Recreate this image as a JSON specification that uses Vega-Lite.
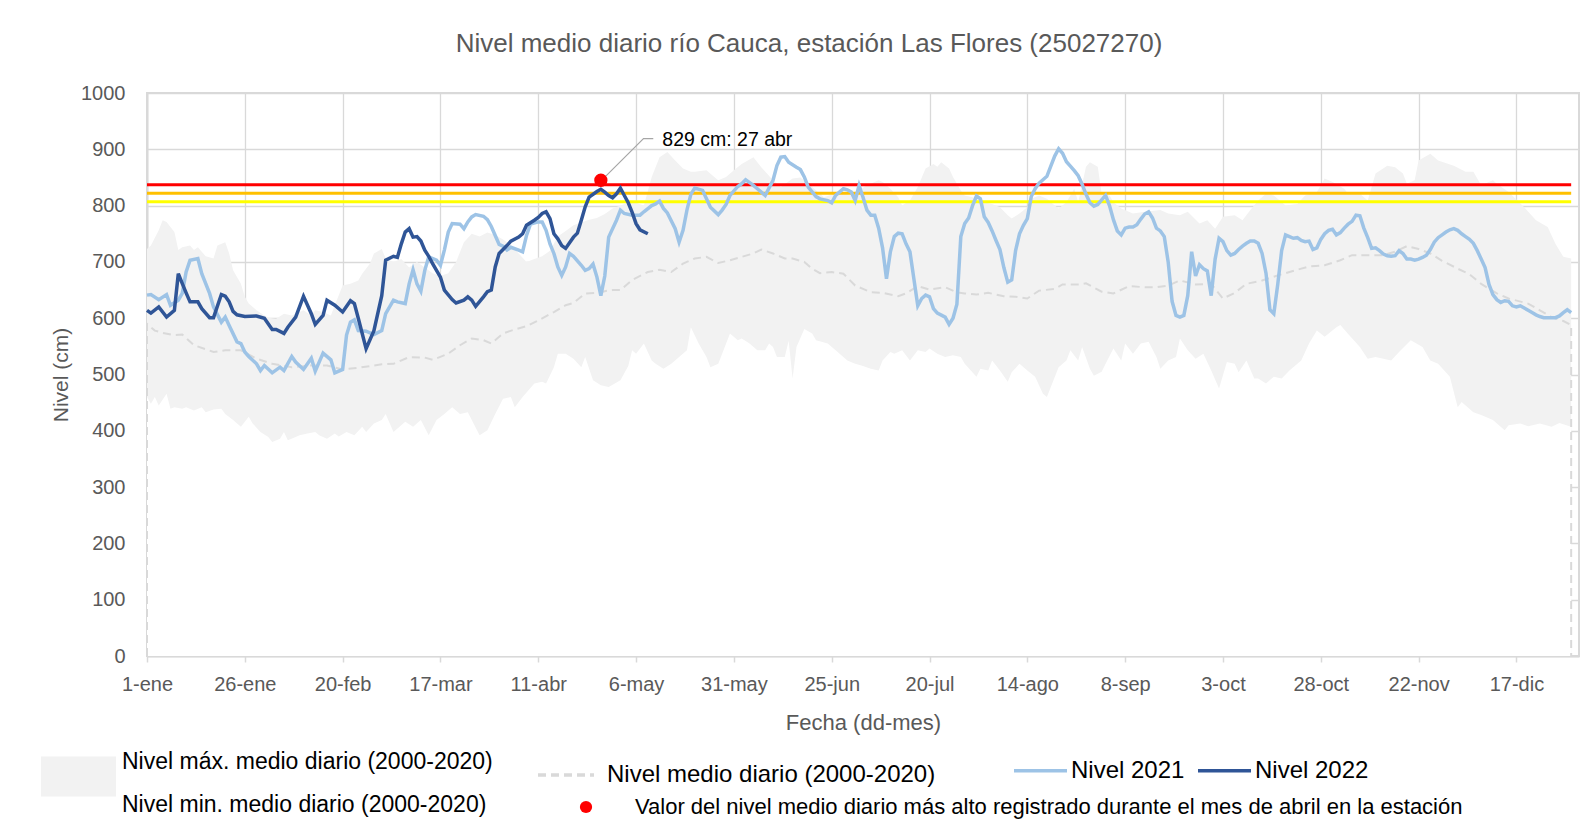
{
"$schema": "https://vega.github.io/schema/vega-lite/v6.json",
"width": 1432, "height": 563,
"autosize": {"type": "none"},
"padding": {"left": 147, "top": 93, "right": 14, "bottom": 178},
"background": "white",
"title": {"text": "Nivel medio diario río Cauca, estación Las Flores (25027270)", "font": "Liberation Sans", "fontSize": 26, "fontWeight": "normal", "color": "#595959", "anchor": "middle", "frame": "group", "dx": -54, "offset": 5.5, "baseline": "alphabetic"},
"config": {
  "font": "Liberation Sans",
  "view": {"stroke": "#D9D9D9", "strokeWidth": 2},
  "legend": {"labelColor": "black", "padding": 0, "labelFont": "Liberation Sans", "labelLimit": 2000}
},
"datasets": {
"max": [{"d":1,"v":723},{"d":2,"v":729},{"d":4,"v":756},{"d":5,"v":774},{"d":6,"v":771},{"d":8,"v":753},{"d":9,"v":721},{"d":10,"v":726},{"d":12,"v":729},{"d":13,"v":721},{"d":14,"v":726},{"d":16,"v":710},{"d":18,"v":706},{"d":19,"v":729},{"d":21,"v":735},{"d":22,"v":715},{"d":23,"v":685},{"d":25,"v":661},{"d":26,"v":638},{"d":27,"v":626},{"d":29,"v":614},{"d":31,"v":605},{"d":32,"v":601},{"d":34,"v":599},{"d":36,"v":608},{"d":38,"v":605},{"d":39,"v":608},{"d":41,"v":614},{"d":43,"v":605},{"d":44,"v":614},{"d":46,"v":611},{"d":48,"v":605},{"d":49,"v":623},{"d":51,"v":658},{"d":53,"v":661},{"d":55,"v":667},{"d":56,"v":679},{"d":58,"v":697},{"d":59,"v":715},{"d":61,"v":723},{"d":62,"v":706},{"d":64,"v":700},{"d":66,"v":705},{"d":68,"v":690},{"d":70,"v":700},{"d":72,"v":690},{"d":74,"v":680},{"d":76,"v":675},{"d":78,"v":680},{"d":80,"v":700},{"d":82,"v":735},{"d":84,"v":750},{"d":86,"v":745},{"d":88,"v":752},{"d":90,"v":748},{"d":92,"v":740},{"d":94,"v":730},{"d":96,"v":715},{"d":98,"v":700},{"d":100,"v":705},{"d":102,"v":710},{"d":104,"v":720},{"d":106,"v":745},{"d":108,"v":755},{"d":110,"v":765},{"d":112,"v":770},{"d":114,"v":775},{"d":116,"v":778},{"d":118,"v":785},{"d":120,"v":795},{"d":122,"v":800},{"d":124,"v":805},{"d":126,"v":805},{"d":128,"v":800},{"d":130,"v":851},{"d":132,"v":886},{"d":134,"v":895},{"d":136,"v":880},{"d":138,"v":866},{"d":140,"v":860},{"d":141,"v":860},{"d":144,"v":863},{"d":146,"v":851},{"d":147,"v":845},{"d":149,"v":851},{"d":151,"v":863},{"d":153,"v":874},{"d":156,"v":886},{"d":157,"v":877},{"d":158,"v":868},{"d":161,"v":845},{"d":163,"v":833},{"d":166,"v":848},{"d":168,"v":850},{"d":171,"v":833},{"d":174,"v":815},{"d":178,"v":824},{"d":181,"v":818},{"d":185,"v":836},{"d":188,"v":845},{"d":189,"v":842},{"d":191,"v":830},{"d":193,"v":815},{"d":194,"v":800},{"d":196,"v":809},{"d":198,"v":833},{"d":200,"v":866},{"d":202,"v":874},{"d":203,"v":869},{"d":204,"v":877},{"d":206,"v":866},{"d":207,"v":851},{"d":209,"v":827},{"d":210,"v":818},{"d":212,"v":815},{"d":215,"v":806},{"d":217,"v":803},{"d":219,"v":797},{"d":221,"v":783},{"d":222,"v":777},{"d":224,"v":786},{"d":226,"v":797},{"d":227,"v":812},{"d":229,"v":818},{"d":231,"v":812},{"d":233,"v":800},{"d":234,"v":795},{"d":236,"v":806},{"d":238,"v":830},{"d":239,"v":806},{"d":241,"v":869},{"d":242,"v":877},{"d":244,"v":869},{"d":245,"v":821},{"d":247,"v":818},{"d":248,"v":806},{"d":250,"v":795},{"d":253,"v":786},{"d":256,"v":789},{"d":260,"v":792},{"d":262,"v":786},{"d":265,"v":783},{"d":267,"v":789},{"d":270,"v":768},{"d":272,"v":774},{"d":274,"v":759},{"d":276,"v":780},{"d":279,"v":783},{"d":281,"v":774},{"d":283,"v":792},{"d":285,"v":809},{"d":287,"v":821},{"d":289,"v":818},{"d":292,"v":800},{"d":295,"v":803},{"d":297,"v":818},{"d":300,"v":824},{"d":302,"v":848},{"d":304,"v":842},{"d":307,"v":830},{"d":308,"v":821},{"d":311,"v":821},{"d":313,"v":809},{"d":315,"v":857},{"d":318,"v":871},{"d":320,"v":868},{"d":322,"v":857},{"d":323,"v":839},{"d":325,"v":845},{"d":326,"v":880},{"d":329,"v":892},{"d":331,"v":880},{"d":335,"v":871},{"d":338,"v":860},{"d":340,"v":860},{"d":342,"v":836},{"d":345,"v":845},{"d":346,"v":839},{"d":349,"v":824},{"d":353,"v":797},{"d":356,"v":774},{"d":359,"v":762},{"d":361,"v":732},{"d":363,"v":709},{"d":365,"v":706}],
"min": [{"d":1,"v":460},{"d":2,"v":448},{"d":3,"v":460},{"d":4,"v":445},{"d":6,"v":466},{"d":7,"v":439},{"d":8,"v":442},{"d":10,"v":439},{"d":11,"v":442},{"d":13,"v":436},{"d":15,"v":442},{"d":16,"v":433},{"d":18,"v":438},{"d":20,"v":439},{"d":21,"v":430},{"d":23,"v":419},{"d":25,"v":407},{"d":27,"v":425},{"d":28,"v":413},{"d":30,"v":398},{"d":32,"v":389},{"d":33,"v":380},{"d":35,"v":386},{"d":36,"v":398},{"d":37,"v":383},{"d":39,"v":389},{"d":40,"v":392},{"d":42,"v":395},{"d":44,"v":398},{"d":45,"v":392},{"d":47,"v":386},{"d":49,"v":395},{"d":50,"v":390},{"d":52,"v":398},{"d":54,"v":392},{"d":56,"v":407},{"d":57,"v":398},{"d":59,"v":413},{"d":61,"v":419},{"d":62,"v":430},{"d":64,"v":398},{"d":67,"v":416},{"d":69,"v":407},{"d":71,"v":419},{"d":73,"v":392},{"d":75,"v":419},{"d":77,"v":430},{"d":79,"v":442},{"d":81,"v":430},{"d":83,"v":433},{"d":86,"v":392},{"d":88,"v":401},{"d":90,"v":430},{"d":92,"v":457},{"d":94,"v":460},{"d":95,"v":442},{"d":97,"v":460},{"d":100,"v":484},{"d":102,"v":487},{"d":103,"v":484},{"d":105,"v":513},{"d":106,"v":537},{"d":108,"v":537},{"d":110,"v":528},{"d":112,"v":513},{"d":113,"v":531},{"d":115,"v":490},{"d":117,"v":481},{"d":119,"v":478},{"d":122,"v":490},{"d":124,"v":515},{"d":125,"v":543},{"d":126,"v":537},{"d":128,"v":555},{"d":130,"v":525},{"d":131,"v":519},{"d":133,"v":510},{"d":135,"v":519},{"d":137,"v":531},{"d":139,"v":543},{"d":140,"v":584},{"d":142,"v":555},{"d":144,"v":531},{"d":145,"v":513},{"d":147,"v":519},{"d":148,"v":537},{"d":150,"v":573},{"d":152,"v":561},{"d":153,"v":564},{"d":155,"v":555},{"d":157,"v":543},{"d":159,"v":543},{"d":160,"v":555},{"d":161,"v":549},{"d":162,"v":531},{"d":164,"v":531},{"d":165,"v":560},{"d":166,"v":493},{"d":167,"v":549},{"d":169,"v":581},{"d":171,"v":573},{"d":172,"v":561},{"d":175,"v":555},{"d":177,"v":543},{"d":180,"v":525},{"d":182,"v":519},{"d":184,"v":515},{"d":186,"v":510},{"d":188,"v":507},{"d":189,"v":525},{"d":191,"v":540},{"d":192,"v":537},{"d":194,"v":543},{"d":196,"v":525},{"d":198,"v":543},{"d":200,"v":540},{"d":201,"v":546},{"d":203,"v":537},{"d":205,"v":531},{"d":207,"v":534},{"d":209,"v":531},{"d":210,"v":519},{"d":213,"v":496},{"d":214,"v":510},{"d":216,"v":507},{"d":217,"v":525},{"d":219,"v":507},{"d":221,"v":487},{"d":222,"v":504},{"d":224,"v":519},{"d":226,"v":507},{"d":228,"v":496},{"d":230,"v":466},{"d":231,"v":460},{"d":232,"v":478},{"d":234,"v":513},{"d":236,"v":525},{"d":237,"v":543},{"d":239,"v":525},{"d":240,"v":549},{"d":242,"v":510},{"d":243,"v":498},{"d":245,"v":505},{"d":246,"v":519},{"d":248,"v":546},{"d":250,"v":525},{"d":251,"v":555},{"d":253,"v":537},{"d":255,"v":555},{"d":257,"v":558},{"d":259,"v":531},{"d":260,"v":510},{"d":262,"v":525},{"d":264,"v":531},{"d":265,"v":564},{"d":267,"v":543},{"d":269,"v":528},{"d":271,"v":537},{"d":273,"v":507},{"d":275,"v":475},{"d":277,"v":522},{"d":279,"v":519},{"d":280,"v":504},{"d":282,"v":525},{"d":284,"v":493},{"d":285,"v":493},{"d":287,"v":484},{"d":289,"v":496},{"d":291,"v":493},{"d":293,"v":507},{"d":296,"v":525},{"d":298,"v":555},{"d":300,"v":578},{"d":302,"v":567},{"d":305,"v":584},{"d":306,"v":588},{"d":308,"v":572},{"d":311,"v":549},{"d":313,"v":528},{"d":315,"v":531},{"d":319,"v":525},{"d":321,"v":540},{"d":324,"v":561},{"d":327,"v":549},{"d":329,"v":525},{"d":331,"v":519},{"d":334,"v":496},{"d":336,"v":442},{"d":337,"v":451},{"d":340,"v":433},{"d":342,"v":428},{"d":345,"v":419},{"d":348,"v":401},{"d":349,"v":410},{"d":352,"v":413},{"d":354,"v":408},{"d":357,"v":413},{"d":360,"v":407},{"d":362,"v":414},{"d":365,"v":407}],
"media": [{"d":1,"v":0},{"d":1,"v":590},{"d":3,"v":578},{"d":5,"v":574},{"d":8,"v":570},{"d":10,"v":571},{"d":13,"v":552},{"d":18,"v":540},{"d":21,"v":543},{"d":25,"v":543},{"d":29,"v":528},{"d":33,"v":519},{"d":38,"v":513},{"d":43,"v":516},{"d":47,"v":516},{"d":51,"v":509},{"d":55,"v":512},{"d":61,"v":518},{"d":64,"v":519},{"d":68,"v":531},{"d":72,"v":530},{"d":74,"v":526},{"d":78,"v":537},{"d":81,"v":552},{"d":84,"v":564},{"d":87,"v":561},{"d":89,"v":555},{"d":92,"v":573},{"d":95,"v":580},{"d":98,"v":586},{"d":101,"v":596},{"d":105,"v":611},{"d":108,"v":623},{"d":110,"v":627},{"d":113,"v":644},{"d":116,"v":645},{"d":118,"v":648},{"d":120,"v":650},{"d":122,"v":650},{"d":125,"v":668},{"d":129,"v":682},{"d":132,"v":686},{"d":135,"v":682},{"d":138,"v":697},{"d":141,"v":706},{"d":144,"v":709},{"d":147,"v":698},{"d":150,"v":703},{"d":153,"v":709},{"d":156,"v":715},{"d":158,"v":722},{"d":161,"v":715},{"d":164,"v":706},{"d":166,"v":706},{"d":169,"v":700},{"d":171,"v":688},{"d":173,"v":680},{"d":176,"v":682},{"d":179,"v":679},{"d":182,"v":658},{"d":184,"v":652},{"d":186,"v":646},{"d":189,"v":645},{"d":193,"v":639},{"d":195,"v":644},{"d":198,"v":657},{"d":201,"v":651},{"d":205,"v":655},{"d":208,"v":646},{"d":210,"v":644},{"d":213,"v":642},{"d":216,"v":645},{"d":220,"v":639},{"d":223,"v":638},{"d":226,"v":635},{"d":229,"v":649},{"d":233,"v":652},{"d":235,"v":660},{"d":239,"v":660},{"d":241,"v":662},{"d":245,"v":647},{"d":248,"v":644},{"d":252,"v":657},{"d":256,"v":655},{"d":259,"v":655},{"d":262,"v":658},{"d":265,"v":667},{"d":269,"v":660},{"d":273,"v":661},{"d":276,"v":635},{"d":279,"v":645},{"d":282,"v":661},{"d":286,"v":667},{"d":290,"v":676},{"d":295,"v":686},{"d":298,"v":692},{"d":302,"v":694},{"d":306,"v":703},{"d":309,"v":712},{"d":313,"v":712},{"d":317,"v":712},{"d":320,"v":718},{"d":323,"v":728},{"d":326,"v":723},{"d":329,"v":715},{"d":332,"v":702},{"d":336,"v":688},{"d":339,"v":678},{"d":342,"v":661},{"d":346,"v":644},{"d":349,"v":635},{"d":354,"v":626},{"d":357,"v":614},{"d":360,"v":602},{"d":363,"v":595},{"d":365,"v":588},{"d":365,"v":0}],
"umbrales": [{"u":"r","d":1,"v":837},{"u":"r","d":365,"v":837},{"u":"n","d":1,"v":822},{"u":"n","d":365,"v":822},{"u":"a","d":1,"v":807},{"u":"a","d":365,"v":807}],
"n2021": [{"d":1,"v":641},{"d":2,"v":642},{"d":4,"v":633},{"d":6,"v":642},{"d":7,"v":623},{"d":9,"v":632},{"d":10,"v":644},{"d":11,"v":682},{"d":12,"v":703},{"d":14,"v":706},{"d":15,"v":679},{"d":17,"v":644},{"d":18,"v":620},{"d":20,"v":593},{"d":21,"v":602},{"d":22,"v":587},{"d":24,"v":558},{"d":25,"v":555},{"d":26,"v":540},{"d":27,"v":532},{"d":29,"v":519},{"d":30,"v":507},{"d":31,"v":516},{"d":33,"v":503},{"d":35,"v":513},{"d":36,"v":507},{"d":38,"v":532},{"d":39,"v":522},{"d":41,"v":509},{"d":43,"v":529},{"d":44,"v":506},{"d":46,"v":538},{"d":48,"v":526},{"d":49,"v":503},{"d":51,"v":509},{"d":52,"v":570},{"d":53,"v":593},{"d":54,"v":597},{"d":55,"v":578},{"d":57,"v":577},{"d":59,"v":571},{"d":61,"v":578},{"d":62,"v":608},{"d":64,"v":632},{"d":65,"v":629},{"d":67,"v":626},{"d":68,"v":661},{"d":69,"v":686},{"d":70,"v":661},{"d":71,"v":648},{"d":72,"v":685},{"d":73,"v":709},{"d":75,"v":703},{"d":76,"v":694},{"d":77,"v":721},{"d":78,"v":753},{"d":79,"v":768},{"d":81,"v":767},{"d":82,"v":759},{"d":83,"v":771},{"d":84,"v":780},{"d":85,"v":784},{"d":87,"v":781},{"d":88,"v":775},{"d":89,"v":763},{"d":90,"v":747},{"d":91,"v":731},{"d":92,"v":728},{"d":93,"v":721},{"d":94,"v":726},{"d":96,"v":721},{"d":97,"v":718},{"d":98,"v":747},{"d":99,"v":767},{"d":101,"v":771},{"d":102,"v":771},{"d":103,"v":756},{"d":104,"v":732},{"d":105,"v":715},{"d":106,"v":691},{"d":107,"v":676},{"d":108,"v":691},{"d":109,"v":715},{"d":110,"v":710},{"d":112,"v":694},{"d":113,"v":685},{"d":114,"v":688},{"d":115,"v":696},{"d":116,"v":673},{"d":117,"v":640},{"d":118,"v":675},{"d":119,"v":744},{"d":121,"v":774},{"d":122,"v":792},{"d":123,"v":786},{"d":125,"v":783},{"d":127,"v":783},{"d":128,"v":789},{"d":130,"v":800},{"d":131,"v":803},{"d":132,"v":808},{"d":133,"v":795},{"d":134,"v":787},{"d":136,"v":759},{"d":137,"v":735},{"d":138,"v":756},{"d":139,"v":792},{"d":140,"v":820},{"d":141,"v":831},{"d":143,"v":827},{"d":144,"v":812},{"d":145,"v":797},{"d":147,"v":784},{"d":148,"v":792},{"d":149,"v":802},{"d":150,"v":818},{"d":152,"v":834},{"d":153,"v":839},{"d":154,"v":846},{"d":156,"v":836},{"d":157,"v":830},{"d":158,"v":824},{"d":159,"v":818},{"d":161,"v":845},{"d":162,"v":871},{"d":163,"v":886},{"d":164,"v":887},{"d":165,"v":877},{"d":167,"v":868},{"d":168,"v":864},{"d":169,"v":851},{"d":170,"v":833},{"d":172,"v":816},{"d":173,"v":812},{"d":175,"v":809},{"d":176,"v":805},{"d":177,"v":818},{"d":179,"v":830},{"d":180,"v":828},{"d":181,"v":824},{"d":182,"v":809},{"d":183,"v":836},{"d":184,"v":815},{"d":185,"v":792},{"d":186,"v":783},{"d":187,"v":783},{"d":188,"v":760},{"d":189,"v":725},{"d":190,"v":670},{"d":191,"v":718},{"d":192,"v":745},{"d":193,"v":751},{"d":194,"v":750},{"d":195,"v":732},{"d":196,"v":718},{"d":197,"v":670},{"d":198,"v":622},{"d":199,"v":635},{"d":200,"v":641},{"d":201,"v":638},{"d":202,"v":617},{"d":203,"v":609},{"d":205,"v":602},{"d":206,"v":589},{"d":207,"v":600},{"d":208,"v":625},{"d":209,"v":745},{"d":210,"v":768},{"d":211,"v":778},{"d":212,"v":800},{"d":213,"v":817},{"d":214,"v":812},{"d":215,"v":780},{"d":216,"v":770},{"d":217,"v":755},{"d":218,"v":738},{"d":219,"v":722},{"d":220,"v":690},{"d":221,"v":664},{"d":222,"v":668},{"d":223,"v":720},{"d":224,"v":750},{"d":225,"v":765},{"d":226,"v":777},{"d":227,"v":816},{"d":228,"v":830},{"d":229,"v":840},{"d":230,"v":846},{"d":231,"v":852},{"d":232,"v":870},{"d":233,"v":888},{"d":234,"v":901},{"d":235,"v":893},{"d":236,"v":878},{"d":237,"v":870},{"d":238,"v":862},{"d":239,"v":853},{"d":240,"v":838},{"d":241,"v":820},{"d":242,"v":805},{"d":243,"v":799},{"d":244,"v":802},{"d":245,"v":810},{"d":246,"v":818},{"d":247,"v":800},{"d":248,"v":775},{"d":249,"v":755},{"d":250,"v":748},{"d":251,"v":760},{"d":252,"v":762},{"d":253,"v":762},{"d":254,"v":766},{"d":255,"v":776},{"d":256,"v":785},{"d":257,"v":789},{"d":258,"v":778},{"d":259,"v":760},{"d":260,"v":755},{"d":261,"v":745},{"d":262,"v":700},{"d":263,"v":630},{"d":264,"v":605},{"d":265,"v":602},{"d":266,"v":605},{"d":267,"v":640},{"d":268,"v":718},{"d":269,"v":675},{"d":270,"v":695},{"d":271,"v":688},{"d":272,"v":684},{"d":273,"v":640},{"d":274,"v":705},{"d":275,"v":742},{"d":276,"v":736},{"d":277,"v":720},{"d":278,"v":712},{"d":279,"v":715},{"d":280,"v":722},{"d":281,"v":728},{"d":282,"v":733},{"d":283,"v":737},{"d":284,"v":737},{"d":285,"v":733},{"d":286,"v":715},{"d":287,"v":680},{"d":288,"v":615},{"d":289,"v":608},{"d":290,"v":660},{"d":291,"v":720},{"d":292,"v":748},{"d":293,"v":745},{"d":294,"v":742},{"d":295,"v":743},{"d":296,"v":738},{"d":297,"v":736},{"d":298,"v":737},{"d":299,"v":722},{"d":300,"v":725},{"d":301,"v":740},{"d":302,"v":750},{"d":303,"v":756},{"d":304,"v":758},{"d":305,"v":748},{"d":306,"v":752},{"d":307,"v":760},{"d":308,"v":767},{"d":309,"v":772},{"d":310,"v":783},{"d":311,"v":782},{"d":312,"v":760},{"d":313,"v":743},{"d":314,"v":724},{"d":315,"v":725},{"d":316,"v":720},{"d":317,"v":714},{"d":318,"v":711},{"d":319,"v":710},{"d":320,"v":711},{"d":321,"v":720},{"d":322,"v":715},{"d":323,"v":705},{"d":324,"v":705},{"d":325,"v":703},{"d":326,"v":705},{"d":327,"v":708},{"d":328,"v":712},{"d":329,"v":722},{"d":330,"v":735},{"d":331,"v":743},{"d":332,"v":748},{"d":333,"v":753},{"d":334,"v":757},{"d":335,"v":759},{"d":336,"v":756},{"d":337,"v":750},{"d":338,"v":745},{"d":339,"v":740},{"d":340,"v":733},{"d":341,"v":720},{"d":342,"v":705},{"d":343,"v":690},{"d":344,"v":660},{"d":345,"v":642},{"d":346,"v":633},{"d":347,"v":628},{"d":348,"v":631},{"d":349,"v":630},{"d":350,"v":622},{"d":351,"v":620},{"d":352,"v":622},{"d":353,"v":618},{"d":354,"v":614},{"d":355,"v":610},{"d":356,"v":606},{"d":357,"v":603},{"d":358,"v":601},{"d":359,"v":601},{"d":360,"v":601},{"d":361,"v":601},{"d":362,"v":604},{"d":363,"v":610},{"d":364,"v":615},{"d":365,"v":610}],
"n2022": [{"d":1,"v":614},{"d":2,"v":609},{"d":4,"v":620},{"d":6,"v":602},{"d":8,"v":614},{"d":9,"v":679},{"d":10,"v":662},{"d":11,"v":645},{"d":12,"v":629},{"d":14,"v":629},{"d":15,"v":617},{"d":17,"v":601},{"d":18,"v":601},{"d":20,"v":642},{"d":21,"v":639},{"d":22,"v":629},{"d":23,"v":612},{"d":24,"v":606},{"d":26,"v":603},{"d":29,"v":604},{"d":31,"v":600},{"d":33,"v":580},{"d":34,"v":580},{"d":36,"v":573},{"d":37,"v":584},{"d":39,"v":602},{"d":41,"v":639},{"d":43,"v":608},{"d":44,"v":589},{"d":46,"v":605},{"d":47,"v":632},{"d":49,"v":623},{"d":51,"v":611},{"d":53,"v":631},{"d":54,"v":626},{"d":55,"v":600},{"d":57,"v":546},{"d":59,"v":578},{"d":61,"v":640},{"d":62,"v":703},{"d":64,"v":710},{"d":65,"v":708},{"d":66,"v":732},{"d":67,"v":753},{"d":68,"v":759},{"d":69,"v":744},{"d":70,"v":745},{"d":71,"v":737},{"d":72,"v":721},{"d":73,"v":710},{"d":74,"v":697},{"d":76,"v":673},{"d":77,"v":650},{"d":79,"v":633},{"d":80,"v":627},{"d":82,"v":632},{"d":83,"v":638},{"d":84,"v":632},{"d":85,"v":621},{"d":87,"v":638},{"d":88,"v":647},{"d":89,"v":650},{"d":90,"v":691},{"d":91,"v":715},{"d":93,"v":729},{"d":94,"v":737},{"d":96,"v":744},{"d":97,"v":750},{"d":98,"v":765},{"d":100,"v":774},{"d":101,"v":779},{"d":102,"v":786},{"d":103,"v":789},{"d":104,"v":777},{"d":105,"v":750},{"d":106,"v":741},{"d":107,"v":729},{"d":108,"v":724},{"d":109,"v":734},{"d":110,"v":744},{"d":111,"v":751},{"d":112,"v":774},{"d":113,"v":798},{"d":114,"v":815},{"d":116,"v":825},{"d":117,"v":829},{"d":118,"v":824},{"d":119,"v":818},{"d":120,"v":814},{"d":121,"v":821},{"d":122,"v":831},{"d":123,"v":818},{"d":124,"v":805},{"d":125,"v":788},{"d":126,"v":768},{"d":127,"v":757},{"d":129,"v":750}],
"guia": [{"d":118.2,"v":852},{"d":127.9,"v":919},{"d":130.4,"v":919}],
"maximo": [{"d":117,"v":845}],
"etiqueta": [{"d":132.7,"v":917,"t":"829 cm: 27 abr"}]
},
"encoding": {
  "x": {"field": "d", "type": "quantitative", "scale": {"domain": [1, 367], "nice": false, "zero": false},
    "axis": {"values": [1,26,51,76,101,126,151,176,201,226,251,276,301,326,351],
      "labelExpr": "date(datetime(2021,0,datum.value)) + '-' + ['ene','feb','mar','abr','may','jun','jul','ago','sep','oct','nov','dic'][month(datetime(2021,0,datum.value))]",
      "grid": true, "gridColor": "#D9D9D9", "gridWidth": 1.3,
      "domain": true, "domainColor": "#D9D9D9", "domainWidth": 2,
      "ticks": true, "tickColor": "#D9D9D9", "tickSize": 6, "tickWidth": 1.5,
      "labelFontSize": 20, "labelColor": "#595959", "labelPadding": 12, "labelFlush": false, "labelOverlap": false, "labelBound": false,
      "title": "Fecha (dd-mes)", "titleFontSize": 22, "titleColor": "#595959", "titleFontWeight": "normal", "titlePadding": 18}},
  "y": {"field": "v", "type": "quantitative", "scale": {"domain": [0, 1000], "nice": false},
    "axis": {"values": [0,100,200,300,400,500,600,700,800,900,1000], "format": "d",
      "grid": true, "gridColor": "#D9D9D9", "gridWidth": 1.3,
      "domain": true, "domainColor": "#D9D9D9", "domainWidth": 2,
      "ticks": false, "tickSize": 0,
      "labelFontSize": 20, "labelColor": "#595959", "labelPadding": 22,
      "title": "Nivel (cm)", "titleFontSize": 21, "titleColor": "#595959", "titleFontWeight": "normal", "titlePadding": 9}}
},
"layer": [
  {"data": {"name": "max"}, "mark": {"type": "area", "opacity": 1},
   "encoding": {"y2": {"datum": 0},
     "fill": {"datum": "Nivel máx. medio diario (2000-2020)|Nivel min. medio diario (2000-2020)", "scale": {"range": ["#F2F2F2"]},
       "legend": {"orient": "none", "legendX": -106, "legendY": 646, "title": null, "symbolType": "M-1,-0.533H1V0.533H-1Z", "symbolSize": 5625, "symbolStrokeWidth": 0, "symbolOpacity": 1, "labelFontSize": 23, "labelOffset": 6, "labelExpr": "split(datum.label, '|')",
         "encode": {"labels": {"update": {"lineHeight": {"value": 43}, "dy": {"value": -15}}}}}}}},
  {"data": {"name": "min"}, "mark": {"type": "area", "fill": "white", "opacity": 1},
   "encoding": {"y2": {"datum": 0}}},
  {"data": {"name": "media"}, "mark": {"type": "line", "color": "#D9D9D9", "strokeWidth": 2},
   "encoding": {"strokeDash": {"datum": "Nivel medio diario (2000-2020)", "scale": {"range": [[8, 5]]},
     "legend": {"orient": "none", "legendX": 389, "legendY": 652, "title": null, "symbolType": "stroke", "symbolSize": 3136, "symbolStrokeColor": "#D9D9D9", "symbolStrokeWidth": 3.5, "labelFontSize": 24, "labelOffset": 11,
       "encode": {"symbols": {"update": {"strokeDash": {"value": [18, 9]}}}}}}}},
  {"data": {"name": "umbrales"}, "mark": {"type": "line", "strokeWidth": 3},
   "encoding": {"color": {"field": "u", "type": "nominal", "scale": {"domain": ["r", "n", "a"], "range": ["#FF0000", "#FFC000", "#FFFF00"]}, "legend": null}}},
  {"data": {"name": "n2021"}, "mark": {"type": "line", "strokeWidth": 3.5},
   "encoding": {"stroke": {"datum": "Nivel 2021", "scale": {"domain": ["Nivel 2021", "Nivel 2022"], "range": ["#9DC3E6", "#2F5597"]},
     "legend": {"orient": "none", "legendX": 865, "legendY": 649, "direction": "horizontal", "title": null, "symbolType": "stroke", "symbolSize": 2809, "symbolStrokeWidth": 3.5, "labelFontSize": 24, "labelOffset": 2, "columnPadding": 6}}}},
  {"data": {"name": "n2022"}, "mark": {"type": "line", "strokeWidth": 3.5},
   "encoding": {"stroke": {"datum": "Nivel 2022"}}},
  {"data": {"name": "guia"}, "mark": {"type": "line", "color": "#A6A6A6", "strokeWidth": 1.2}, "encoding": {}},
  {"data": {"name": "maximo"}, "mark": {"type": "point", "filled": true, "color": "#FF0000", "size": 177, "opacity": 1},
   "encoding": {"shape": {"datum": "Valor del nivel medio diario más alto registrado durante el mes de abril en la estación", "scale": {"range": ["circle"]},
     "legend": {"orient": "none", "legendX": 428, "legendY": 703, "title": null, "symbolSize": 150, "symbolFillColor": "#FF0000", "symbolStrokeWidth": 0, "symbolOpacity": 1, "labelFontSize": 22, "labelOffset": 38}}}},
  {"data": {"name": "etiqueta"}, "mark": {"type": "text", "align": "left", "baseline": "middle", "fontSize": 19.5, "color": "black", "font": "Liberation Sans"},
   "encoding": {"text": {"field": "t"}}}
]
}
